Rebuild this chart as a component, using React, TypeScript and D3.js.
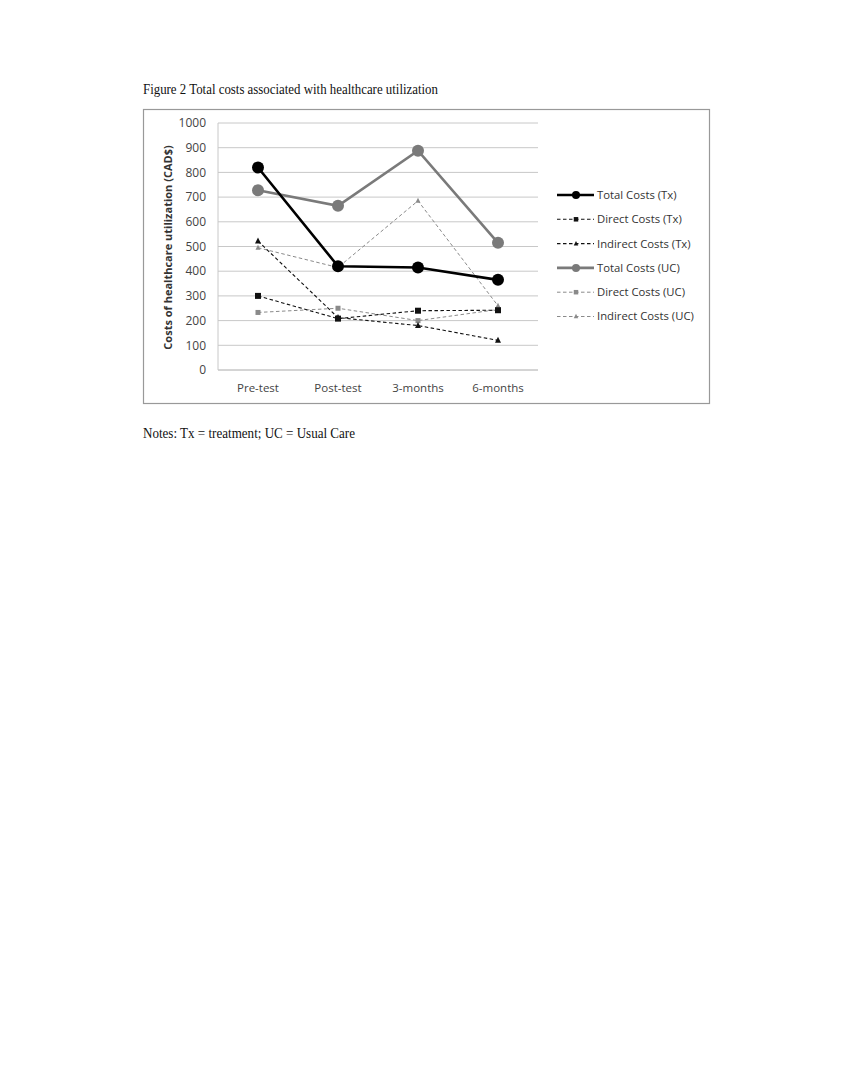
import React from "react";
import * as d3 from "d3";

const categories = ["Pre-test", "Post-test", "3-months", "6-months"];
const yTicks = [0, 100, 200, 300, 400, 500, 600, 700, 800, 900, 1000];

const totalTx = [820, 420, 415, 365];
const directTx = [300, 208, 240, 242];
const indirectTx = [522, 212, 180, 120];
const totalUC = [728, 665, 888, 515];
const directUC = [233, 250, 200, 245];
const indirectUC = [495, 415, 685, 260];

const seriesNames = [
  "Total Costs (Tx)",
  "Direct Costs (Tx)",
  "Indirect Costs (Tx)",
  "Total Costs (UC)",
  "Direct Costs (UC)",
  "Indirect Costs (UC)",
];

type Style = { color: string; width: number; dash: string | null; marker: "circle" | "square" | "triangle"; size: number };

const styles: Style[] = [
  { color: "#000", width: 2.6, dash: null, marker: "circle", size: 6 },
  { color: "#111", width: 1.1, dash: "3.5,2.5", marker: "square", size: 6 },
  { color: "#111", width: 1.1, dash: "3.5,2.5", marker: "triangle", size: 6 },
  { color: "#7a7a7a", width: 2.6, dash: null, marker: "circle", size: 6 },
  { color: "#8a8a8a", width: 1, dash: "3.5,2.5", marker: "square", size: 5 },
  { color: "#8a8a8a", width: 1, dash: "3.5,2.5", marker: "triangle", size: 5 },
];

const seriesData = [totalTx, directTx, indirectTx, totalUC, directUC, indirectUC];

function Marker({ x, y, s }: { x: number; y: number; s: Style }) {
  if (s.marker === "circle") return <circle cx={x} cy={y} r={s.size} fill={s.color} />;
  if (s.marker === "square")
    return <rect x={x - s.size / 2} y={y - s.size / 2} width={s.size} height={s.size} fill={s.color} />;
  const h = s.size;
  return <path d={`M${x},${y - h * 0.6} L${x + h / 2},${y + h * 0.4} L${x - h / 2},${y + h * 0.4} Z`} fill={s.color} />;
}

export default function App() {
  const W = 852, H = 1074;
  const plotLeft = 218, plotRight = 538, plotTop = 123, plotBottom = 370;
  const x = d3.scaleBand<string>().domain(categories).range([plotLeft, plotRight]);
  const y = d3.scaleLinear().domain([0, 1000]).range([plotBottom, plotTop]);
  const cx = (c: string) => (x(c) as number) + x.bandwidth() / 2;
  const line = d3.line<[number, number]>().x(d => d[0]).y(d => d[1]);
  const font = "'Open Sans', 'Noto Sans', sans-serif";
  const legendYs = seriesNames.map((_, i) => 195 + i * 24.3);

  return (
    <svg width={W} height={H} style={{ position: "absolute", left: 0, top: 0, background: "#fff" }}>
      <rect x={0} y={0} width={W} height={H} fill="#fff" />
      <text x={143} y={94} fontFamily="'Liberation Serif', 'Times New Roman', serif" fontSize={14} textLength={295} lengthAdjust="spacingAndGlyphs" fill="#111">
        Figure 2 Total costs associated with healthcare utilization
      </text>
      <rect x={143.5} y={109.5} width={566} height={294} fill="none" stroke="#999" strokeWidth={1.2} />
      {yTicks.map(t => (
        <g key={t}>
          <line x1={plotLeft} x2={plotRight} y1={y(t)} y2={y(t)} stroke={t === 0 ? "#aaa" : "#c8c8c8"} strokeWidth={1} />
          <text x={206} y={y(t)} dy="0.35em" textAnchor="end" fontFamily={font} fontSize={12} fill="#444">{t}</text>
        </g>
      ))}
      <line x1={plotLeft} x2={plotLeft} y1={plotTop} y2={plotBottom} stroke="#c8c8c8" />
      {categories.map(c => (
        <text key={c} x={cx(c)} y={392} textAnchor="middle" fontFamily={font} fontSize={11.5} fill="#444">{c}</text>
      ))}
      <text transform={`translate(172,${(plotTop + plotBottom) / 2 + 1}) rotate(-90)`} textAnchor="middle" fontFamily={font} fontSize={11} fontWeight="bold" fill="#333">
        Costs of healthcare utilization (CAD$)
      </text>
      {[5, 4, 2, 1, 3, 0].map(i => {
        const s = styles[i];
        const pts = seriesData[i].map((v, j) => [cx(categories[j]), y(v)] as [number, number]);
        return (
          <g key={i}>
            <path d={line(pts) || ""} fill="none" stroke={s.color} strokeWidth={s.width} strokeDasharray={s.dash || undefined} />
            {pts.map((p, j) => <Marker key={j} x={p[0]} y={p[1]} s={s} />)}
          </g>
        );
      })}
      {seriesNames.map((n, i) => {
        const s = styles[i];
        const ly = legendYs[i];
        return (
          <g key={n}>
            <line x1={557} x2={594} y1={ly} y2={ly} stroke={s.color} strokeWidth={s.width} strokeDasharray={s.dash || undefined} />
            <Marker x={576} y={ly} s={{ ...s, size: s.marker === "circle" ? 4 : 4.5 }} />
            <text x={597} y={ly} dy="0.35em" fontFamily={font} fontSize={11.3} fill="#333">{n}</text>
          </g>
        );
      })}
      <text x={143} y={438} fontFamily="'Liberation Serif', 'Times New Roman', serif" fontSize={14} textLength={212} lengthAdjust="spacingAndGlyphs" fill="#111">
        Notes: Tx = treatment; UC = Usual Care
      </text>
    </svg>
  );
}
